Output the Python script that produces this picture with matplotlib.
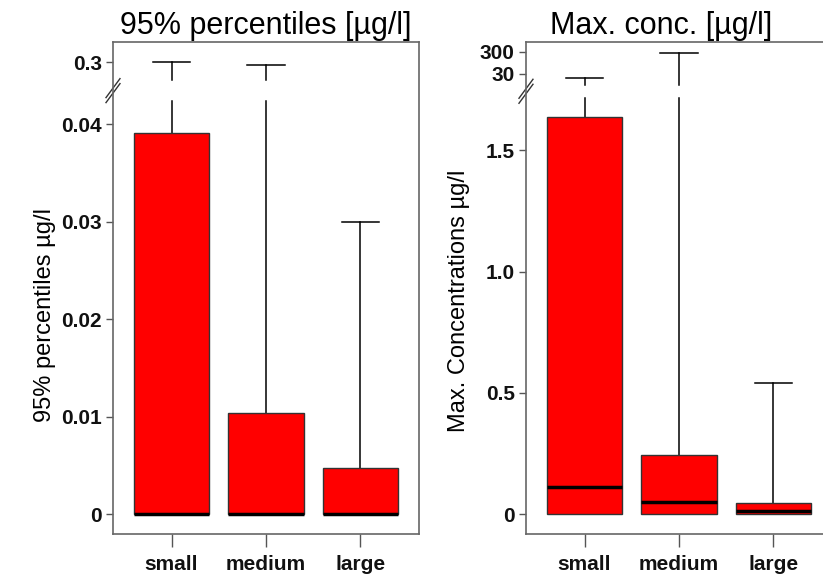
import numpy as np
import matplotlib
matplotlib.use('Agg')
import matplotlib.pyplot as plt

plt.rcParams['font.family'] = ['Liberation Sans', 'DejaVu Sans']

groups = ['small', 'medium', 'large']

# 95% percentiles [ug/l]: box bottom, median, box top, whisker top
p95_q1 = [0.0, 0.0, 0.0]
p95_med = [0.0, 0.0, 0.0]
p95_q3 = [0.0391, 0.01036, 0.0047]
p95_max = [0.3, 0.292, 0.030]

# max. concentrations [ug/l]
mx_q1 = [0.0, 0.0, 0.002]
mx_med = [0.111, 0.049, 0.011]
mx_q3 = [1.638, 0.243, 0.047]
mx_max = [19.0, 261.0, 0.54]


# broken axes: lower part linear, upper part squeezed in above a gap
def make_scale(lo_end, gap_top, up_start, up_fun, up_inv):
    def fwd(v):
        v = np.asarray(v, dtype=float)
        mid = lo_end + (v - lo_end) / (up_start - lo_end) * (gap_top - lo_end)
        return np.where(v <= lo_end, v, np.where(v < up_start, mid, up_fun(np.maximum(v, up_start))))

    def inv(p):
        p = np.asarray(p, dtype=float)
        mid = lo_end + (p - lo_end) / (gap_top - lo_end) * (up_start - lo_end)
        return np.where(p <= lo_end, p, np.where(p < gap_top, mid, up_inv(np.maximum(p, gap_top))))
    return fwd, inv


# left panel: upper part linear, 0.3 at 0.04636
L_k = 0.04
L_fwd, L_inv = make_scale(0.04236, 0.04451, 0.3 + (0.04451 - 0.046359) / L_k,
                          lambda v: 0.046359 + (v - 0.3) * L_k,
                          lambda p: 0.3 + (p - 0.046359) / L_k)
# right panel: upper part log
R_m, R_p30 = 0.0905, 1.816
R_fwd, R_inv = make_scale(1.718, 1.7695, 10 ** (np.log10(30) + (1.7695 - R_p30) / R_m),
                          lambda v: R_p30 + (np.log10(v) - np.log10(30)) * R_m,
                          lambda p: 10 ** (np.log10(30) + (p - R_p30) / R_m))

fig = plt.figure(figsize=(8.23, 5.76), dpi=100)
ax1 = fig.add_axes([0.1373, 0.0729, 0.3718, 0.854])
ax2 = fig.add_axes([0.6391, 0.0729, 0.3718, 0.854])

panels = [
    (ax1, L_fwd, L_inv, p95_q1, p95_med, p95_q3, p95_max, 0.04236, 0.2538,
     (-0.00205, 0.3513), [0, 0.01, 0.02, 0.03, 0.04, 0.3], ['0', '0.01', '0.02', '0.03', '0.04', '0.3'],
     '95% percentiles [µg/l]', '95% percentiles µg/l', 0.5, (-0.186, 0.445)),
    (ax2, R_fwd, R_inv, mx_q1, mx_med, mx_q3, mx_max, 1.718, 9.19,
     (-0.0823, 830), [0, 0.5, 1.0, 1.5, 30, 300], ['0', '0.5', '1.0', '1.5', '30', '300'],
     'Max. conc. [µg/l]', 'Max. Concentrations µg/l', 0.441, (-0.183, 0.475)),
]

x = np.arange(1, 4)
for ax, fwd, inv, q1, med, q3, top, gap_lo, gap_hi, ylim, yt, ytl, title, ylab, tx, lc in panels:
    ax.set_yscale('function', functions=(fwd, inv))
    ax.set_xlim(0.38, 3.62)
    ax.set_ylim(*ylim)
    for i in range(3):
        # whisker, broken at the axis gap
        if top[i] > gap_hi:
            ax.plot([x[i], x[i]], [q3[i], gap_lo], color='black', lw=1.1)
            ax.plot([x[i], x[i]], [gap_hi, top[i]], color='black', lw=1.1)
        else:
            ax.plot([x[i], x[i]], [q3[i], top[i]], color='black', lw=1.1)
        ax.plot([x[i] - 0.2, x[i] + 0.2], [top[i], top[i]], color='black', lw=1.1)
    ax.bar(x, np.array(q3) - np.array(q1), bottom=q1, width=0.8,
           color='#FF0000', edgecolor='#333333', linewidth=1, zorder=3)
    ax.hlines(med, x - 0.4, x + 0.4, color='black', lw=2.5, zorder=4)

    ax.set_yticks(yt)
    ax.set_yticklabels(ytl)
    ax.yaxis.set_minor_locator(matplotlib.ticker.NullLocator())
    ax.set_xticks(x)
    ax.set_xticklabels(groups)
    ax.tick_params(axis='y', length=5, width=1, color='#555555', pad=3, labelsize=15)
    ax.tick_params(axis='x', length=9, width=1, color='#555555', pad=6, labelsize=15)
    for lab in ax.get_xticklabels() + ax.get_yticklabels():
        lab.set_fontweight('bold')
        lab.set_color('#111111')
    for s in ax.spines.values():
        s.set_color('#666666')
        s.set_linewidth(1.2)
    ax.set_title(title, fontsize=22, x=tx, pad=6)
    ax.set_ylabel(ylab, fontsize=17)
    ax.yaxis.set_label_coords(*lc)

    # break mark on the y axis
    yb = (gap_lo + gap_hi) / 2
    yd = ax.transData.transform((1, yb))[1]
    ya = ax.transAxes.inverted().transform((0, yd))[1]
    dx, dy = 7 / 306, 9.5 / 492
    for off in (-2.5 / 492, 2.5 / 492):
        ax.plot([-dx, dx], [ya + off - dy, ya + off + dy], transform=ax.transAxes,
                color='#333333', lw=1, clip_on=False)

fig.savefig('out.png', dpi=100)
